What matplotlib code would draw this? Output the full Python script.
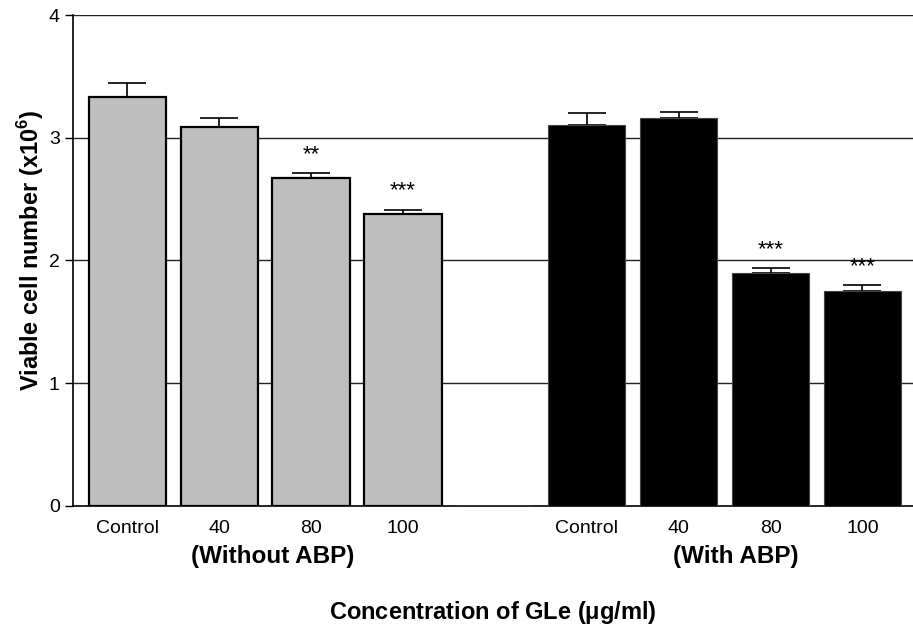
import numpy as np
import matplotlib
matplotlib.use("Agg")
from matplotlib import pyplot as plt

plt.rcParams['font.family'] = ['Liberation Sans', 'DejaVu Sans']
plt.rcParams['mathtext.fontset'] = 'custom'
plt.rcParams['mathtext.rm'] = 'Liberation Sans'
plt.rcParams['mathtext.bf'] = 'Liberation Sans:bold'

# viable cells (x10^6), mean and SEM
labels = ['Control', '40', '80', '100']
without_abp = [3.33, 3.09, 2.67, 2.38]
without_err = [0.115, 0.073, 0.040, 0.033]
with_abp = [3.10, 3.16, 1.895, 1.753]
with_err = [0.100, 0.052, 0.041, 0.044]
sig_without = ['', '', '**', '***']
sig_with = ['', '', '***', '***']

x1 = np.arange(4)
x2 = np.arange(5, 9)
width = 0.84

fig = plt.figure(figsize=(9.13, 6.28), dpi=100)
ax = fig.add_axes([0.080, 0.1943, 0.925, 0.7818])

for y in [1, 2, 3, 4]:
    ax.axhline(y, color='#222222', lw=1.0, zorder=0)

ax.bar(x1, without_abp, width, color='#bebebe', edgecolor='black', lw=1.6, zorder=3)
ax.errorbar(x1, without_abp, yerr=[np.zeros(4), without_err], fmt='none',
            ecolor='black', elinewidth=1.2, capsize=14, capthick=1.2, zorder=2)

# empty spacer slot between the two groups
ax.bar([4], [0], width, color='white', edgecolor='#777777', lw=1.0, zorder=3)

ax.bar(x2, with_abp, width, color='black', edgecolor='#444444', lw=0.8, zorder=3)
ax.errorbar(x2, with_abp, yerr=[np.zeros(4), with_err], fmt='none',
            ecolor='black', elinewidth=1.2, capsize=14, capthick=1.2, zorder=2)

for xs, vals, errs, sig in [(x1, without_abp, without_err, sig_without),
                            (x2, with_abp, with_err, sig_with)]:
    for xi, v, e, s in zip(xs, vals, errs, sig):
        if s:
            ax.text(xi, v + e + 0.07, s, ha='center', va='bottom', fontsize=16)

ax.set_xlim(-0.59, 8.6)
ax.set_ylim(0, 4)
ax.set_yticks([0, 1, 2, 3, 4])
ax.tick_params(axis='y', labelsize=14, length=6, width=1, direction='out')
ax.set_xticks(list(x1) + list(x2))
ax.set_xticklabels(labels + labels)
ax.tick_params(axis='x', labelsize=14, length=0, pad=10)

for side in ['top', 'right']:
    ax.spines[side].set_visible(False)
ax.spines['left'].set_linewidth(1.2)
ax.spines['bottom'].set_linewidth(1.2)

ax.text(1.58, -0.41, '(Without ABP)', ha='center', va='center',
        fontsize=17.5, fontweight='bold', clip_on=False)
ax.text(6.62, -0.41, '(With ABP)', ha='center', va='center',
        fontsize=17.5, fontweight='bold', clip_on=False)

fig.text(31 / 913, 1 - 250 / 628, r'Viable cell number (x10$^{\mathbf{6}}$)',
         rotation=90, ha='center', va='center', fontsize=17, fontweight='bold')
fig.text(493 / 913, 1 - 613 / 628, r'Concentration of GLe ($\mathbf{\mu}$g/ml)',
         ha='center', va='center', fontsize=17, fontweight='bold')

fig.savefig('out.png', dpi=100)
